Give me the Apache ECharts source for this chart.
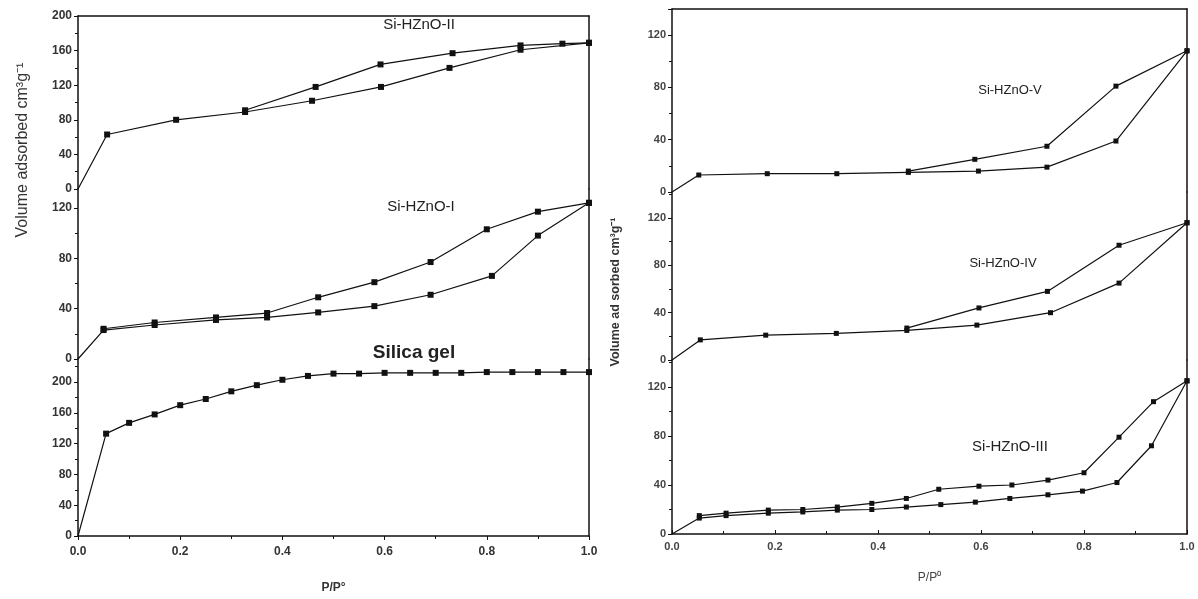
<!DOCTYPE html>
<html><head><meta charset="utf-8">
<script src="https://cdn.jsdelivr.net/npm/echarts@6/dist/echarts.min.js"></script>
<style>html,body{margin:0;padding:0;background:#fff}#c{width:1198px;height:599px}</style>
</head><body><div id="c"></div>
<script>
// ---- data ----
const xTicks = [0, 0.2, 0.4, 0.6, 0.8, 1.0];
// Si-HZnO-II (left top)
const II_ads_x = [0, 0.057, 0.192, 0.327, 0.458, 0.593, 0.727, 0.866, 1.0];
const II_ads_y = [0, 63, 80, 89, 102, 118, 140, 161, 169];
const II_des_x = [1.0, 0.948, 0.866, 0.733, 0.592, 0.465, 0.327];
const II_des_y = [169, 168, 166, 157, 144, 118, 91];
// Si-HZnO-I (left middle)
const I_ads_x = [0, 0.05, 0.15, 0.27, 0.37, 0.47, 0.58, 0.69, 0.81, 0.90, 1.0];
const I_ads_y = [0, 23, 27, 31, 33, 37, 42, 51, 66, 98, 124];
const I_des_x = [1.0, 0.90, 0.80, 0.69, 0.58, 0.47, 0.37, 0.27, 0.15, 0.05];
const I_des_y = [124, 117, 103, 77, 61, 49, 36.5, 33, 29, 24];
// Silica gel (left bottom)
const SG_x = [0, 0.055, 0.1, 0.15, 0.2, 0.25, 0.3, 0.35, 0.4, 0.45, 0.5, 0.55, 0.6, 0.65, 0.7, 0.75, 0.8, 0.85, 0.9, 0.95, 1.0];
const SG_y = [0, 133, 147, 158, 170, 178, 188, 196, 203, 208, 211, 211, 212, 212, 212, 212, 213, 213, 213, 213, 213];
// Si-HZnO-V (right top)
const V_ads_x = [0, 0.052, 0.185, 0.32, 0.459, 0.595, 0.728, 0.862, 1.0];
const V_ads_y = [0, 13, 14, 14, 15, 16, 19, 39, 108];
const V_des_x = [1.0, 0.862, 0.728, 0.588, 0.459];
const V_des_y = [108, 81, 35, 25, 16];
// Si-HZnO-IV (right middle)
const IV_ads_x = [0, 0.055, 0.182, 0.319, 0.456, 0.592, 0.735, 0.868, 1.0];
const IV_ads_y = [0, 17, 21, 22.5, 25, 29.5, 40, 65, 116];
const IV_des_x = [1.0, 0.868, 0.729, 0.596, 0.456];
const IV_des_y = [116, 97, 58, 44, 27];
// Si-HZnO-III (right bottom)
const III_ads_x = [0, 0.053, 0.105, 0.187, 0.254, 0.321, 0.388, 0.455, 0.522, 0.589, 0.656, 0.73, 0.797, 0.864, 0.931, 1.0];
const III_ads_y = [0, 13, 15, 17, 18, 19.5, 20, 22, 24, 26, 29, 32, 35, 42, 72, 125];
const III_des_x = [1.0, 0.935, 0.868, 0.8, 0.73, 0.66, 0.596, 0.518, 0.455, 0.388, 0.321, 0.254, 0.187, 0.105, 0.053];
const III_des_y = [125, 108, 79, 50, 44, 40, 39, 36.5, 29, 25, 22, 20, 19.5, 17, 15];

const panelLabels = ['Si-HZnO-II', 'Si-HZnO-I', 'Silica gel', 'Si-HZnO-V', 'Si-HZnO-IV', 'Si-HZnO-III'];
const yMax = [200, 135, 230, 140, 142, 142];
const yLabel = 'Volume adsorbed cm\u00B3g\u207B\u00B9';
const yLabelR = 'Volume ad sorbed cm\u00B3g\u207B\u00B9';
const xNameL = 'P/P\u00B0';
const xNameR = 'P/P\u2070';

// ---- layout ----
const grids = [
  {left: 78, top: 16, width: 511, height: 173},
  {left: 78, top: 189, width: 511, height: 170},
  {left: 78, top: 359, width: 511, height: 177},
  {left: 672, top: 9, width: 515, height: 183},
  {left: 672, top: 192, width: 515, height: 168},
  {left: 672, top: 360, width: 515, height: 174}
];
const isLeft = i => i < 3;
const isTop = i => i === 0 || i === 3;
const isBottom = i => i === 2 || i === 5;
const lineCol = '#111';

const xAxes = [], yAxes = [];
grids.forEach((g, i) => {
  const L = isLeft(i);
  const fontL = {fontFamily: 'Liberation Sans, Arial', fontSize: 12, fontWeight: 'bold', color: '#333'};
  const fontR = {fontFamily: 'Liberation Sans Narrow, Liberation Sans, Arial', fontSize: 11, fontWeight: 'bold', color: '#444'};
  xAxes.push({
    type: 'value', gridIndex: i, min: 0, max: 1, interval: 0.2, position: 'bottom',
    axisLine: {show: isBottom(i), onZero: false, lineStyle: {color: lineCol, width: 1.5}},
    axisTick: {show: isBottom(i), inside: !L, length: 4, lineStyle: {color: lineCol}},
    minorTick: {show: isBottom(i), splitNumber: 2, length: 3, lineStyle: {color: lineCol}},
    axisLabel: Object.assign({show: isBottom(i), margin: L ? 10 : 7, formatter: v => v.toFixed(1)}, L ? fontL : fontR),
    splitLine: {show: false},
    name: isBottom(i) ? (L ? xNameL : xNameR) : '',
    nameLocation: 'middle', nameGap: L ? 46 : 38,
    nameTextStyle: L ? {fontFamily: 'Liberation Sans, Arial', fontSize: 12, fontWeight: 'bold', color: '#333'}
                     : {fontFamily: 'Liberation Sans Narrow, Liberation Sans, Arial', fontSize: 12, color: '#444'}
  });
  xAxes.push({
    type: 'value', gridIndex: i, min: 0, max: 1, position: 'top',
    axisLine: {show: isTop(i), onZero: false, lineStyle: {color: lineCol, width: 1.5}},
    axisTick: {show: false}, axisLabel: {show: false}, splitLine: {show: false}
  });
  yAxes.push({
    type: 'value', gridIndex: i, min: 0, max: yMax[i], interval: 40, position: 'left',
    axisLine: {show: true, onZero: false, lineStyle: {color: lineCol, width: 1.5}},
    axisTick: {show: true, length: 4, lineStyle: {color: lineCol}},
    minorTick: {show: true, splitNumber: 2, length: 3, lineStyle: {color: lineCol}},
    axisLabel: Object.assign({show: true, margin: 6, showMaxLabel: yMax[i] % 40 === 0}, L ? fontL : fontR),
    splitLine: {show: false}
  });
  yAxes.push({
    type: 'value', gridIndex: i, min: 0, max: yMax[i], position: 'right',
    axisLine: {show: true, onZero: false, lineStyle: {color: lineCol, width: 1.5}},
    axisTick: {show: false}, axisLabel: {show: false}, splitLine: {show: false}
  });
});

function mk(xs, ys, gi, size) {
  return {
    type: 'line', xAxisIndex: gi * 2, yAxisIndex: gi * 2,
    data: xs.map((x, k) => ({value: [x, ys[k]], symbolSize: x === 0 ? 0 : size})),
    symbol: 'rect', symbolSize: size, showSymbol: true,
    lineStyle: {color: '#111', width: 1.2}, itemStyle: {color: '#111'},
    silent: true, animation: false
  };
}
const series = [
  mk(II_ads_x, II_ads_y, 0, 6), mk(II_des_x, II_des_y, 0, 6),
  mk(I_ads_x, I_ads_y, 1, 6), mk(I_des_x, I_des_y, 1, 6),
  mk(SG_x, SG_y, 2, 6),
  mk(V_ads_x, V_ads_y, 3, 5), mk(V_des_x, V_des_y, 3, 5),
  mk(IV_ads_x, IV_ads_y, 4, 5), mk(IV_des_x, IV_des_y, 4, 5),
  mk(III_ads_x, III_ads_y, 5, 5), mk(III_des_x, III_des_y, 5, 5)
];

const labelPos = [[419, 25, 15], [421, 207, 15], [414, 353, 19], [1010, 90, 13], [1003, 263, 13], [1010, 447, 15]];
const labelWeight = ['', '', 'bold ', '', '', ''];
const graphic = panelLabels.map((t, i) => ({
  type: 'text', x: labelPos[i][0], y: labelPos[i][1],
  style: {text: t, fill: '#222', align: 'center', verticalAlign: 'middle',
    font: labelWeight[i] + labelPos[i][2] + 'px ' + (i < 3 ? '"Liberation Sans", Arial' : '"Liberation Sans Narrow", "Liberation Sans", Arial')}
}));
graphic.push({type: 'text', x: 23, y: 150, rotation: Math.PI / 2,
  style: {text: yLabel, fill: '#333', align: 'center', verticalAlign: 'middle', font: '16px "Liberation Sans", Arial'}});
graphic.push({type: 'text', x: 616, y: 292, rotation: Math.PI / 2,
  style: {text: yLabelR, fill: '#333', align: 'center', verticalAlign: 'middle', font: 'bold 12.5px "Liberation Sans", Arial'}});

const chart = echarts.init(document.getElementById('c'));
chart.setOption({
  animation: false,
  backgroundColor: '#fff',
  grid: grids,
  xAxis: xAxes,
  yAxis: yAxes,
  series: series,
  graphic: graphic
});
</script></body></html>
